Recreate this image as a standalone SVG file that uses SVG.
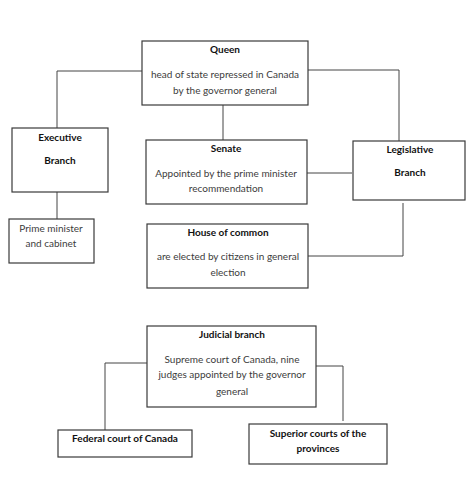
<svg xmlns="http://www.w3.org/2000/svg" width="474" height="481" viewBox="0 0 474 481">
<style>
.box{fill:#fff;stroke:#3a3a3a;stroke-width:1.2}
.ln{fill:none;stroke:#444;stroke-width:1}
text{font-family:Lato,"Open Sans",sans-serif;font-size:10px;text-anchor:middle;fill:#3c3c3c}
.b{font-weight:bold;fill:#111}
</style>
<rect width="474" height="481" fill="#fff"/>
<g id="connectors">
<path class="ln" d="M142,71 H57 V128"/>
<path class="ln" d="M308,70 H399 V141"/>
<path class="ln" d="M223,105 V140"/>
<path class="ln" d="M57,192 V219"/>
<path class="ln" d="M307,173 H352"/>
<path class="ln" d="M403,203 V256 H308"/>
<path class="ln" d="M147,363 H105 V430"/>
<path class="ln" d="M316,366 H343 V421"/>
</g>
<g id="queen">
<rect class="box" x="142" y="41" width="166" height="64"/>
<text class="b" x="225" y="53">Queen</text>
<text x="225" y="78">head of state repressed in Canada</text>
<text x="225" y="94">by the governor general</text>
</g>
<g id="executive">
<rect class="box" x="12" y="128" width="96" height="64"/>
<text class="b" x="60" y="141">Executive</text>
<text class="b" x="60" y="164">Branch</text>
</g>
<g id="prime">
<rect class="box" x="9" y="219" width="85" height="44"/>
<text x="51" y="232">Prime minister</text>
<text x="51" y="247">and cabinet</text>
</g>
<g id="senate">
<rect class="box" x="146" y="140" width="161" height="64"/>
<text class="b" x="226" y="152">Senate</text>
<text x="226" y="177">Appointed by the prime minister</text>
<text x="226" y="192">recommendation</text>
</g>
<g id="legislative">
<rect class="box" x="353" y="141" width="112" height="59"/>
<text class="b" x="410" y="153">Legislative</text>
<text class="b" x="410" y="176">Branch</text>
</g>
<g id="house">
<rect class="box" x="147" y="224" width="161" height="64"/>
<text class="b" x="228" y="236">House of common</text>
<text x="228" y="260">are elected by citizens in general</text>
<text x="228" y="276">election</text>
</g>
<g id="judicial">
<rect class="box" x="147" y="326" width="169" height="81"/>
<text class="b" x="232" y="338">Judicial branch</text>
<text x="232" y="363">Supreme court of Canada, nine</text>
<text x="232" y="378">judges appointed by the governor</text>
<text x="232" y="395">general</text>
</g>
<g id="federal">
<rect class="box" x="58" y="430" width="134" height="27"/>
<text class="b" x="125" y="442">Federal court of Canada</text>
</g>
<g id="superior">
<rect class="box" x="249" y="424" width="138" height="40"/>
<text class="b" x="318" y="437">Superior courts of the</text>
<text class="b" x="318" y="452">provinces</text>
</g>
</svg>
